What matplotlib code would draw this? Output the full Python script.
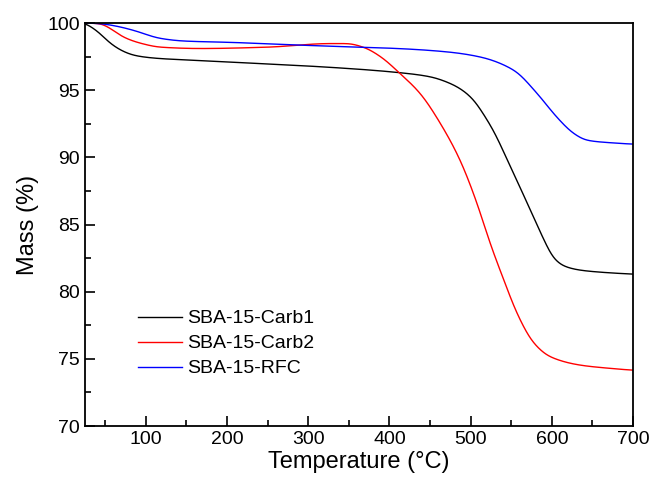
import numpy as np
import matplotlib
matplotlib.use("Agg")
import matplotlib.pyplot as plt
from matplotlib.ticker import MultipleLocator

plt.rcParams['font.family'] = ['Liberation Sans', 'DejaVu Sans']

# TGA curves
t_carb1 = [25, 40, 56, 70, 85, 100, 118, 150, 200, 250, 327, 413, 450, 475, 490, 504, 516,
           528, 549, 570, 590, 602, 615, 635, 660, 700]
m_carb1 = [100.0, 99.4, 98.5, 97.95, 97.6, 97.45, 97.35, 97.25, 97.1, 96.95, 96.7, 96.3,
           96.0, 95.5, 95.0, 94.25, 93.2, 92.0, 89.3, 86.56, 83.9, 82.5, 81.9, 81.6,
           81.45, 81.3]

t_carb2 = [25, 44, 56, 72, 93, 118, 167, 249, 327, 348, 368, 389, 413, 438, 463, 487,
           508, 524, 541, 557, 578, 598, 635, 670, 700]
m_carb2 = [100.0, 99.95, 99.6, 98.96, 98.5, 98.2, 98.1, 98.2, 98.47, 98.47, 98.2, 97.5,
           96.24, 94.75, 92.5, 89.8, 86.56, 83.6, 80.85, 78.4, 76.15, 75.15, 74.53,
           74.3, 74.15]

t_rfc = [25, 44, 65, 85, 118, 146, 208, 270, 327, 410, 471, 512, 553, 582, 606, 627,
         643, 676, 700]
m_rfc = [100.0, 99.95, 99.75, 99.45, 98.85, 98.66, 98.55, 98.4, 98.27, 98.1, 97.85, 97.47,
         96.5, 94.75, 93.0, 91.77, 91.27, 91.07, 90.98]

labels = ['SBA-15-Carb1', 'SBA-15-Carb2', 'SBA-15-RFC']
colors = ['#000000', '#ff0000', '#0000ff']


def pchip(x, y, n=1351):
    # Fritsch-Carlson monotone cubic, keeps the curves smooth without overshoot
    x = np.asarray(x, float)
    y = np.asarray(y, float)
    h = np.diff(x)
    d = np.diff(y) / h
    m = np.zeros_like(y)
    m[0], m[-1] = d[0], d[-1]
    for i in range(1, len(x) - 1):
        if d[i - 1] * d[i] > 0:
            w1 = 2 * h[i] + h[i - 1]
            w2 = h[i] + 2 * h[i - 1]
            m[i] = (w1 + w2) / (w1 / d[i - 1] + w2 / d[i])
    xx = np.linspace(x[0], x[-1], n)
    k = np.clip(np.searchsorted(x, xx) - 1, 0, len(h) - 1)
    t = (xx - x[k]) / h[k]
    h00 = 2 * t**3 - 3 * t**2 + 1
    h10 = t**3 - 2 * t**2 + t
    h01 = -2 * t**3 + 3 * t**2
    h11 = t**3 - t**2
    yy = h00 * y[k] + h10 * h[k] * m[k] + h01 * y[k + 1] + h11 * h[k] * m[k + 1]
    return xx, yy


def smooth(xx, yy, sigma=5.0):
    # light gaussian blur in temperature units to round off the joints
    step = xx[1] - xx[0]
    r = int(3 * sigma / step)
    g = np.exp(-0.5 * (np.arange(-r, r + 1) * step / sigma) ** 2)
    g /= g.sum()
    pad = np.concatenate([np.full(r, yy[0]), yy, np.full(r, yy[-1])])
    return np.convolve(pad, g, mode='valid')


fig = plt.figure(figsize=(6.53, 4.9), dpi=100)
ax = fig.add_axes([85 / 653, 1 - 426 / 490, 548 / 653, 403 / 490])

for t, m, lab, c in zip([t_carb1, t_carb2, t_rfc], [m_carb1, m_carb2, m_rfc], labels, colors):
    tt, mm = pchip(t, m)
    mm = smooth(tt, mm)
    mm[0] = m[0]
    ax.plot(tt, mm, color=c, lw=1.0, label=lab)

ax.set_xlim(25, 700)
ax.set_ylim(70, 100)
ax.xaxis.set_major_locator(MultipleLocator(100))
ax.xaxis.set_minor_locator(MultipleLocator(50))
ax.yaxis.set_major_locator(MultipleLocator(5))
ax.yaxis.set_minor_locator(MultipleLocator(2.5))
ax.tick_params(which='both', direction='in', top=False, right=False, labelsize=14, width=1.2)
ax.tick_params(which='major', length=7)
ax.tick_params(which='minor', length=4)
for s in ax.spines.values():
    s.set_linewidth(1.3)

ax.set_xlabel('Temperature (\u00b0C)', fontsize=17, labelpad=2)
ax.set_ylabel('Mass (%)', fontsize=17, labelpad=6)

ax.legend(loc='upper left', bbox_to_anchor=(0.064, 0.332), frameon=False, fontsize=14,
          handlelength=2.3, handletextpad=0.25, labelspacing=0.38)

fig.savefig('out.png', dpi=100)
